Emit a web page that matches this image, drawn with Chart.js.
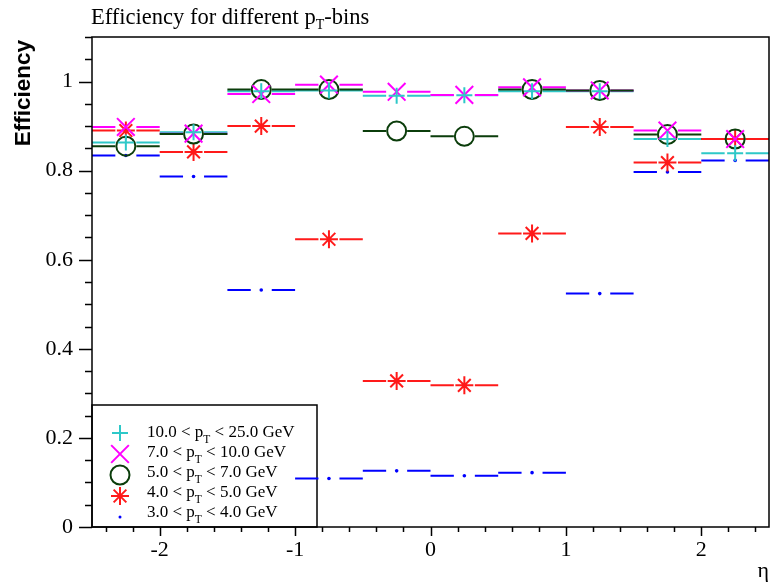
<!DOCTYPE html>
<html>
<head>
<meta charset="utf-8">
<script src="https://cdn.jsdelivr.net/npm/chart.js@4.4.0/dist/chart.umd.min.js"></script>
<style>
  html, body { margin: 0; padding: 0; background: #fff; }
</style>
</head>
<body>
<canvas id="chart" width="771" height="584"></canvas>
<script>
// eta bin centres (bin width 0.5)
const etaBins = [-2.25, -1.75, -1.25, -0.75, -0.25, 0.25, 0.75, 1.25, 1.75, 2.25];
const binHalfWidth = 0.25;

// efficiency per pT bin
const eff10to25 = [0.863, 0.886, 0.978, 0.980, 0.968, 0.969, 0.978, 0.978, 0.871, 0.839];
const eff7to10  = [0.898, 0.883, 0.972, 0.993, 0.977, 0.970, 0.987, 0.980, 0.890, 0.871];
const eff5to7   = [0.855, 0.882, 0.982, 0.982, 0.889, 0.877, 0.982, 0.980, 0.881, 0.871];
const eff4to5   = [0.890, 0.842, 0.900, 0.646, 0.328, 0.318, 0.659, 0.898, 0.818, 0.871];
const eff3to4   = [0.834, 0.787, 0.532, 0.109, 0.126, 0.115, 0.122, 0.524, 0.797, 0.823];

// legend labels: [before subscript, subscript, after]
const labels10to25 = ['10.0 < p', 'T', ' < 25.0 GeV'];
const labels7to10  = ['7.0 < p', 'T', ' < 10.0 GeV'];
const labels5to7   = ['5.0 < p', 'T', ' < 7.0 GeV'];
const labels4to5   = ['4.0 < p', 'T', ' < 5.0 GeV'];
const labels3to4   = ['3.0 < p', 'T', ' < 4.0 GeV'];

// tick labels
const xTicks = [-2, -1, 0, 1, 2];
const yTicks = [0, 0.2, 0.4, 0.6, 0.8, 1];

const serif = '"Liberation Serif", "Times New Roman", serif';
const sans = '"Liberation Sans", Arial, sans-serif';

function series(parts, values, color, style, radius) {
  return {
    label: parts.join(''),
    parts: parts,
    marker: style,
    data: etaBins.map((x, i) => ({ x: x, y: values[i] })),
    borderColor: color,
    backgroundColor: style === 'dot' ? color : 'rgba(0,0,0,0)',
    pointStyle: style === 'dot' ? 'circle' : style,
    pointRadius: radius,
    pointHoverRadius: radius,
    pointBorderWidth: style === 'dot' ? 0 : 2,
    showLine: false
  };
}

function drawMarker(ctx, style, x, y, r) {
  ctx.beginPath();
  if (style === 'cross' || style === 'star') {
    ctx.moveTo(x - r, y); ctx.lineTo(x + r, y);
    ctx.moveTo(x, y - r); ctx.lineTo(x, y + r);
  }
  if (style === 'crossRot' || style === 'star') {
    const d = r * Math.SQRT1_2;
    ctx.moveTo(x - d, y - d); ctx.lineTo(x + d, y + d);
    ctx.moveTo(x - d, y + d); ctx.lineTo(x + d, y - d);
  }
  if (style === 'circle') {
    ctx.arc(x, y, r, 0, Math.PI * 2);
  }
  ctx.stroke();
  if (style === 'dot') {
    ctx.beginPath();
    ctx.arc(x, y, r, 0, Math.PI * 2);
    ctx.fill();
  }
}

// text with a subscript in the middle
function drawSubText(ctx, parts, x, y, size, subSize, drop) {
  ctx.font = size + 'px ' + serif;
  ctx.fillText(parts[0], x, y);
  x += ctx.measureText(parts[0]).width;
  ctx.font = subSize + 'px ' + serif;
  ctx.fillText(parts[1], x, y + drop);
  x += ctx.measureText(parts[1]).width;
  ctx.font = size + 'px ' + serif;
  ctx.fillText(parts[2], x, y);
}

const legendAndBars = {
  id: 'legendAndBars',
  beforeDatasetsDraw(chart) {
    const { ctx, chartArea, scales: { x, y } } = chart;
    ctx.save();

    // legend box
    const bx = chartArea.left, by = 405, bw = 225, bh = chartArea.bottom - 405;
    ctx.fillStyle = '#fff';
    ctx.fillRect(bx, by, bw, bh);
    ctx.strokeStyle = '#000';
    ctx.lineWidth = 1.5;
    ctx.strokeRect(bx, by, bw, bh);

    ctx.textAlign = 'left';
    ctx.textBaseline = 'alphabetic';
    chart.data.datasets.forEach((ds, i) => {
      ctx.strokeStyle = ds.borderColor;
      ctx.fillStyle = ds.borderColor;
      ctx.lineWidth = 2;
      drawMarker(ctx, ds.marker, 120, 433 + 21 * i, ds.marker === 'dot' ? 1.5 : ds.pointRadius);
      ctx.fillStyle = '#000';
      drawSubText(ctx, ds.parts, 147, 437 + 20 * i, 17, 11.5, 6);
    });

    // horizontal error bars spanning the bin, with a gap around the marker
    const gap = 10.5;
    ctx.lineWidth = 2;
    chart.data.datasets.forEach(ds => {
      ctx.strokeStyle = ds.borderColor;
      ds.data.forEach(p => {
        const cx = x.getPixelForValue(p.x);
        const cy = y.getPixelForValue(p.y);
        const l = x.getPixelForValue(p.x - binHalfWidth);
        const r = x.getPixelForValue(p.x + binHalfWidth);
        ctx.beginPath();
        ctx.moveTo(l, cy); ctx.lineTo(cx - gap, cy);
        ctx.moveTo(cx + gap, cy); ctx.lineTo(r, cy);
        ctx.stroke();
      });
    });
    ctx.restore();
  },
  afterDraw(chart) {
    const { ctx, chartArea, scales: { x, y } } = chart;
    ctx.save();
    ctx.strokeStyle = '#000';
    ctx.lineWidth = 1.5;
    ctx.strokeRect(chartArea.left, chartArea.top, chartArea.right - chartArea.left, chartArea.bottom - chartArea.top);

    // y ticks (outside, to the left), minor every 0.05
    ctx.beginPath();
    for (let k = 0; k * 0.05 <= y.max + 1e-9; k++) {
      const py = Math.round(y.getPixelForValue(k * 0.05)) + 0.5;
      ctx.moveTo(chartArea.left, py);
      ctx.lineTo(chartArea.left - (k % 4 === 0 ? 13 : 7), py);
    }
    // x ticks (outside, below), minor every 0.2
    for (let k = -12; k <= 12; k++) {
      const px = Math.round(x.getPixelForValue(k * 0.2)) + 0.5;
      ctx.moveTo(px, chartArea.bottom);
      ctx.lineTo(px, chartArea.bottom + (k % 5 === 0 ? 9 : 5));
    }
    ctx.stroke();

    // title
    ctx.fillStyle = '#000';
    ctx.textAlign = 'left';
    ctx.textBaseline = 'alphabetic';
    drawSubText(ctx, ['Efficiency for different p', 'T', '-bins'], 91, 24, 22.5, 14, 5);

    // y axis title, right-aligned at the top of the axis
    ctx.translate(30, 40);
    ctx.rotate(-Math.PI / 2);
    ctx.textAlign = 'right';
    ctx.font = 'bold 22.5px ' + sans;
    ctx.fillText('Efficiency', 0, 0);
    ctx.restore();
  }
};

const chart = new Chart(document.getElementById('chart'), {
  type: 'scatter',
  data: {
    datasets: [
      series(labels10to25, eff10to25, '#2ec8c8', 'cross', 8),
      series(labels7to10, eff7to10, '#ff00ff', 'crossRot', 12.5),
      series(labels5to7, eff5to7, '#0b3d0b', 'circle', 9.5),
      series(labels4to5, eff4to5, '#ff1a1a', 'star', 9),
      series(labels3to4, eff3to4, '#0000ff', 'dot', 1.8)
    ]
  },
  options: {
    responsive: false,
    animation: false,
    devicePixelRatio: 1,
    layout: { autoPadding: false, padding: { left: 0, top: 37, right: 2, bottom: 0 } },
    plugins: {
      legend: { display: false },
      title: { display: false },
      tooltip: { enabled: false }
    },
    scales: {
      x: {
        type: 'linear',
        min: -2.5,
        max: 2.5,
        grid: { display: false, drawTicks: false },
        border: { display: false },
        afterBuildTicks: scale => { scale.ticks = xTicks.map(v => ({ value: v })); },
        ticks: {
          autoSkip: false,
          maxRotation: 0,
          padding: 10,
          color: '#000',
          font: { family: serif, size: 22 },
          callback: v => String(v)
        },
        title: {
          display: true,
          text: 'η',
          align: 'end',
          color: '#000',
          font: { family: serif, size: 22 },
          padding: { top: 2, bottom: 0 }
        },
        afterFit: scale => {
          scale.height = 57;
          scale.paddingLeft = 0;
          scale.paddingRight = 0;
        }
      },
      y: {
        type: 'linear',
        min: 0,
        max: 1.1,
        grid: { display: false, drawTicks: false },
        border: { display: false },
        afterBuildTicks: scale => { scale.ticks = yTicks.map(v => ({ value: v })); },
        ticks: {
          autoSkip: false,
          padding: 19,
          color: '#000',
          font: { family: serif, size: 22 },
          callback: v => String(v)
        },
        afterFit: scale => {
          scale.width = 92;
          scale.paddingTop = 0;
          scale.paddingBottom = 0;
        }
      }
    }
  },
  plugins: [legendAndBars]
});
</script>
</body>
</html>
